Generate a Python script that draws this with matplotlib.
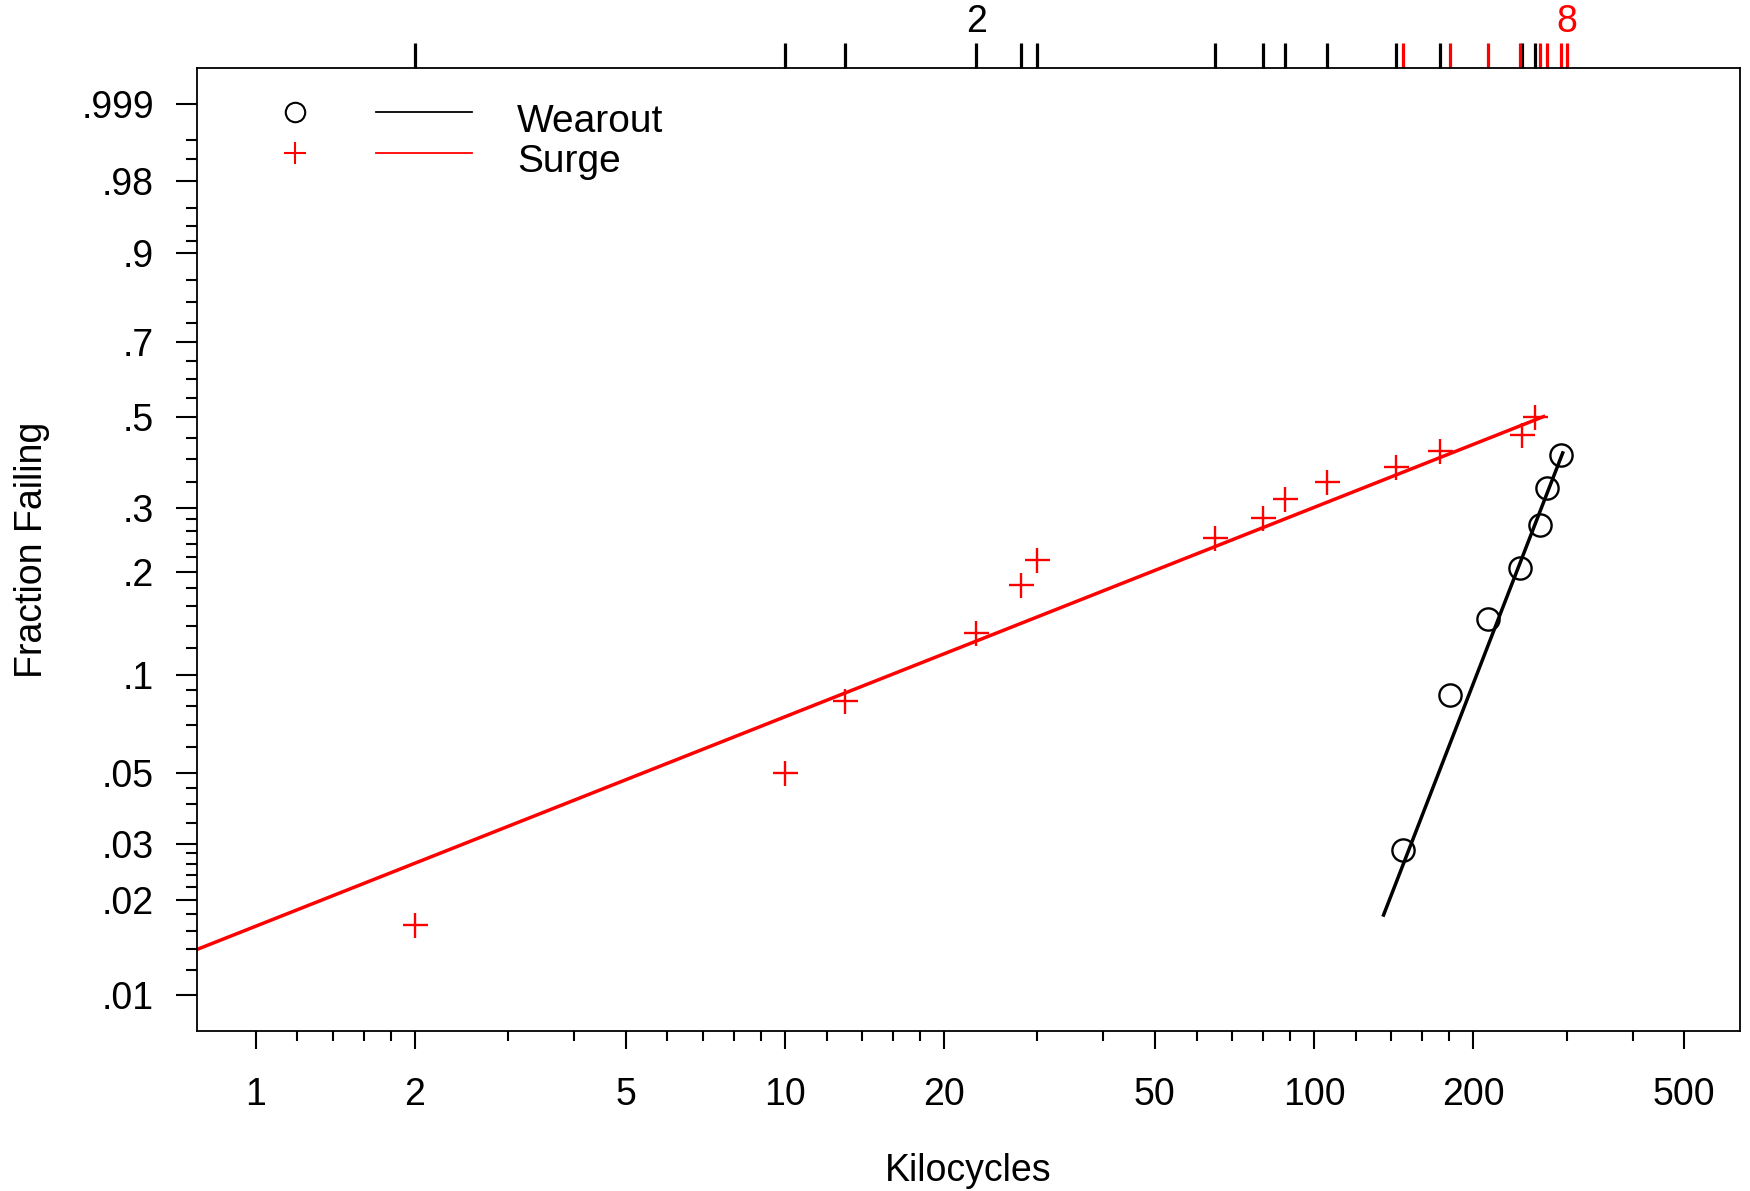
import numpy as np
import matplotlib.pyplot as plt

plt.rcParams['font.family'] = ['Liberation Sans', 'DejaVu Sans']

# data (kilocycles, fraction failing)
surge_kc = [2, 10, 13, 23, 28, 30, 65, 80, 88, 106, 143, 173, 247, 262]
surge_frac = [0.0167, 0.050, 0.0833, 0.1334, 0.1834, 0.2164, 0.2497,
              0.2829, 0.3165, 0.3501, 0.3831, 0.4184, 0.4571, 0.5004]
wear_kc = [147, 181, 213, 245, 267, 276, 293]
wear_frac = [0.0287, 0.0867, 0.1464, 0.2055, 0.2696, 0.338, 0.409]

# fitted lines (end points)
surge_fit_kc = [0.775, 271.4]
surge_fit_frac = [0.01396, 0.502]
wear_fit_kc = [135.3, 295]
wear_fit_frac = [0.01793, 0.4139]

# rug on top of the plot
rug_black = [2, 10, 13, 23, 28, 30, 65, 80, 88, 106, 143, 173, 247, 262]
rug_red = [147, 181, 213, 245, 267, 276, 293, 301]
rug_count_kc = [23, 300]
rug_count_txt = ['2', '8']
rug_count_col = ['black', 'red']

x_major = [1, 2, 5, 10, 20, 50, 100, 200, 500]
x_minor = [1.2, 1.4, 1.6, 1.8, 3, 4, 6, 7, 8, 9, 12, 14, 16, 18, 30, 40,
           60, 70, 80, 90, 120, 140, 160, 180, 300, 400]
y_major = [0.01, 0.02, 0.03, 0.05, 0.1, 0.2, 0.3, 0.5, 0.7, 0.9, 0.98, 0.999]
y_major_lab = ['.01', '.02', '.03', '.05', '.1', '.2', '.3', '.5', '.7', '.9', '.98', '.999']
y_minor = [0.012, 0.014, 0.016, 0.018, 0.022, 0.024, 0.026, 0.028, 0.035, 0.04,
           0.045, 0.06, 0.07, 0.08, 0.09, 0.12, 0.14, 0.16, 0.18, 0.22, 0.24,
           0.26, 0.28, 0.35, 0.4, 0.45, 0.55, 0.6, 0.65, 0.75, 0.8, 0.85,
           0.92, 0.94, 0.96, 0.99, 0.995]


def weib(p):  # weibull probability scale
    return np.log(-np.log(1 - np.asarray(p, dtype=float)))


fig = plt.figure(figsize=(17.5, 11.91), dpi=100)
ax = fig.add_axes([0.11257, 0.13434, 0.88172, 0.80857])
ax.set_xscale('log')

ax.plot(surge_fit_kc, weib(surge_fit_frac), color='red', lw=2.5)
ax.plot(wear_fit_kc, weib(wear_fit_frac), color='black', lw=2.5)
ax.plot(surge_kc, weib(surge_frac), '+', color='red', ms=18, mew=1.7)
ax.plot(wear_kc, weib(wear_frac), 'o', mfc='none', mec='black', ms=16, mew=1.7)

ax.set_xlim(0.775, 638)
ax.set_ylim(-4.862, 2.193)

ax.set_xticks(x_major)
ax.set_xticklabels([str(v) for v in x_major])
ax.set_xticks(x_minor, minor=True)
ax.xaxis.set_minor_formatter(plt.NullFormatter())
ax.set_yticks(weib(y_major))
ax.set_yticklabels(y_major_lab)
ax.set_yticks(weib(y_minor), minor=True)

ax.tick_params(axis='x', which='major', direction='out', length=13, width=1.5, labelsize=27, pad=20)
ax.tick_params(axis='x', which='minor', direction='out', length=7, width=1.5)
ax.tick_params(axis='y', which='major', direction='out', length=15, width=1.5, labelsize=27, pad=16)
ax.tick_params(axis='y', which='minor', direction='out', length=8, width=1.5)
for s in ax.spines.values():
    s.set_linewidth(1.3)

# rug of failure times above the axes
tr = ax.get_xaxis_transform()
ax.vlines(rug_black, 1.0, 1.026, transform=tr, colors='black', lw=2.3, clip_on=False)
ax.vlines(rug_red, 1.0, 1.026, transform=tr, colors='red', lw=2.3, clip_on=False)
for k, t, c in zip(rug_count_kc, rug_count_txt, rug_count_col):
    ax.text(k, 1.048, t, transform=tr, ha='center', va='center', fontsize=27, color=c)

# legend drawn by hand
ax.plot([0.0635], [0.9543], 'o', mfc='none', mec='black', ms=14, mew=1.5, transform=ax.transAxes)
ax.plot([0.0635], [0.9117], '+', color='red', ms=16, mew=1.5, transform=ax.transAxes)
ax.plot([0.116, 0.178], [0.9543, 0.9543], color='black', lw=1.3, transform=ax.transAxes)
ax.plot([0.116, 0.178], [0.9117, 0.9117], color='red', lw=1.3, transform=ax.transAxes)
ax.text(0.2074, 0.9339, 'Wearout', transform=ax.transAxes, fontsize=28, va='baseline')
ax.text(0.2074, 0.8923, 'Surge', transform=ax.transAxes, fontsize=28, va='baseline')

ax.set_xlabel('Kilocycles', fontsize=27)
ax.set_ylabel('Fraction Failing', fontsize=27)
ax.xaxis.set_label_coords(0.5, -0.127)
ax.yaxis.set_label_coords(-0.095, 0.5)

fig.savefig('out.png', dpi=100)
